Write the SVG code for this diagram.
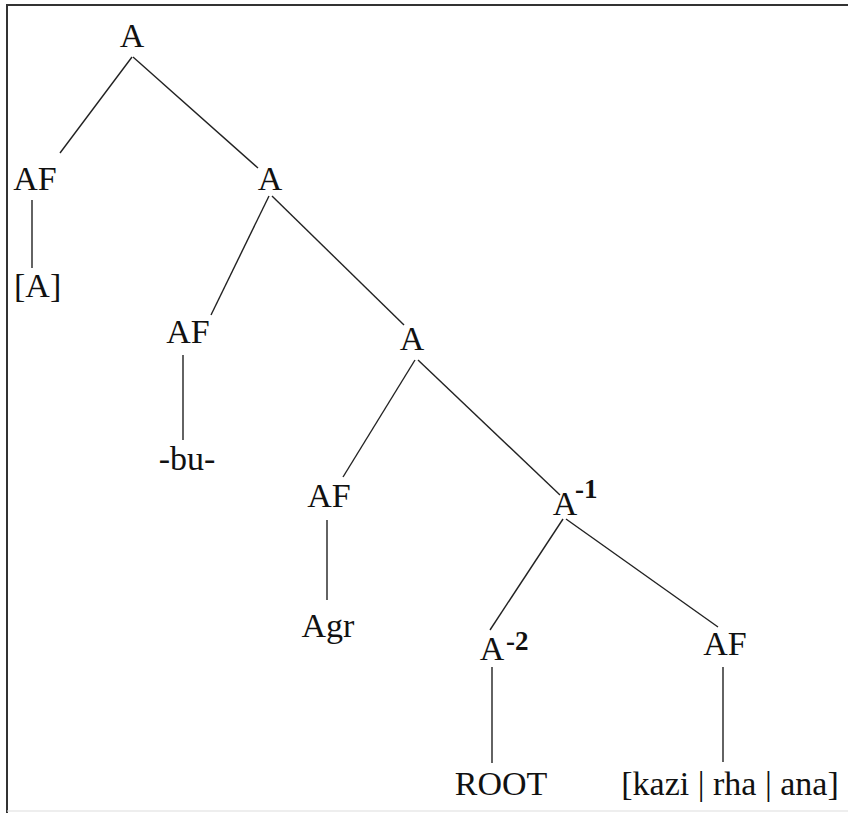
<svg xmlns="http://www.w3.org/2000/svg" width="848" height="815" viewBox="0 0 848 815">
<style>
text{font-family:'Liberation Serif','Times New Roman',serif;fill:#111}
.t{font-size:34px}
.s{font-size:27px;font-weight:bold}
.e line{stroke:#222;stroke-width:1.4}
</style>
<rect width="848" height="815" fill="#fff"/>
<g id="frame" stroke="#333">
<line x1="6" y1="5" x2="848" y2="5" stroke-width="2"/>
<line x1="7" y1="5" x2="7" y2="813" stroke-width="2"/>
<line x1="7" y1="811" x2="848" y2="811" stroke="#ddd" stroke-width="1"/>
</g>
<g id="edges" class="e">
<line x1="132" y1="57" x2="60" y2="153"/>
<line x1="133" y1="57" x2="258" y2="168"/>
<line x1="32" y1="200" x2="32" y2="268"/>
<line x1="269" y1="196" x2="211" y2="315"/>
<line x1="272" y1="196" x2="404" y2="325"/>
<line x1="183" y1="355" x2="183" y2="440"/>
<line x1="415" y1="360" x2="343" y2="477"/>
<line x1="418" y1="360" x2="560" y2="495"/>
<line x1="327" y1="520" x2="327" y2="600"/>
<line x1="563" y1="519" x2="490" y2="630"/>
<line x1="566" y1="519" x2="718" y2="627"/>
<line x1="492" y1="667" x2="492" y2="763"/>
<line x1="723" y1="667" x2="723" y2="762"/>
</g>
<g id="n_A0"><text class="t" x="132" y="47" text-anchor="middle">A</text></g>
<g id="n_AF1"><text class="t" x="35" y="190" text-anchor="middle">AF</text></g>
<g id="n_A1"><text class="t" x="270" y="190" text-anchor="middle">A</text></g>
<g id="n_leafA"><text class="t" x="14" y="297">[A]</text></g>
<g id="n_AF2"><text class="t" x="188" y="343" text-anchor="middle">AF</text></g>
<g id="n_A2"><text class="t" x="412" y="350" text-anchor="middle">A</text></g>
<g id="n_bu"><text class="t" x="187" y="470" text-anchor="middle">-bu-</text></g>
<g id="n_AF3"><text class="t" x="329" y="507" text-anchor="middle">AF</text></g>
<g id="n_Am1"><text class="t" x="565" y="515" text-anchor="middle">A</text><text class="s" x="575" y="498">-1</text></g>
<g id="n_Agr"><text class="t" x="328" y="637" text-anchor="middle">Agr</text></g>
<g id="n_Am2"><text class="t" x="492" y="660" text-anchor="middle">A</text><text class="s" x="506" y="650">-2</text></g>
<g id="n_AF4"><text class="t" x="725" y="655" text-anchor="middle">AF</text></g>
<g id="n_ROOT"><text class="t" x="501" y="795" text-anchor="middle">ROOT</text></g>
<g id="n_kazi"><text class="t" x="730" y="795" text-anchor="middle">[kazi | rha | ana]</text></g>
</svg>
